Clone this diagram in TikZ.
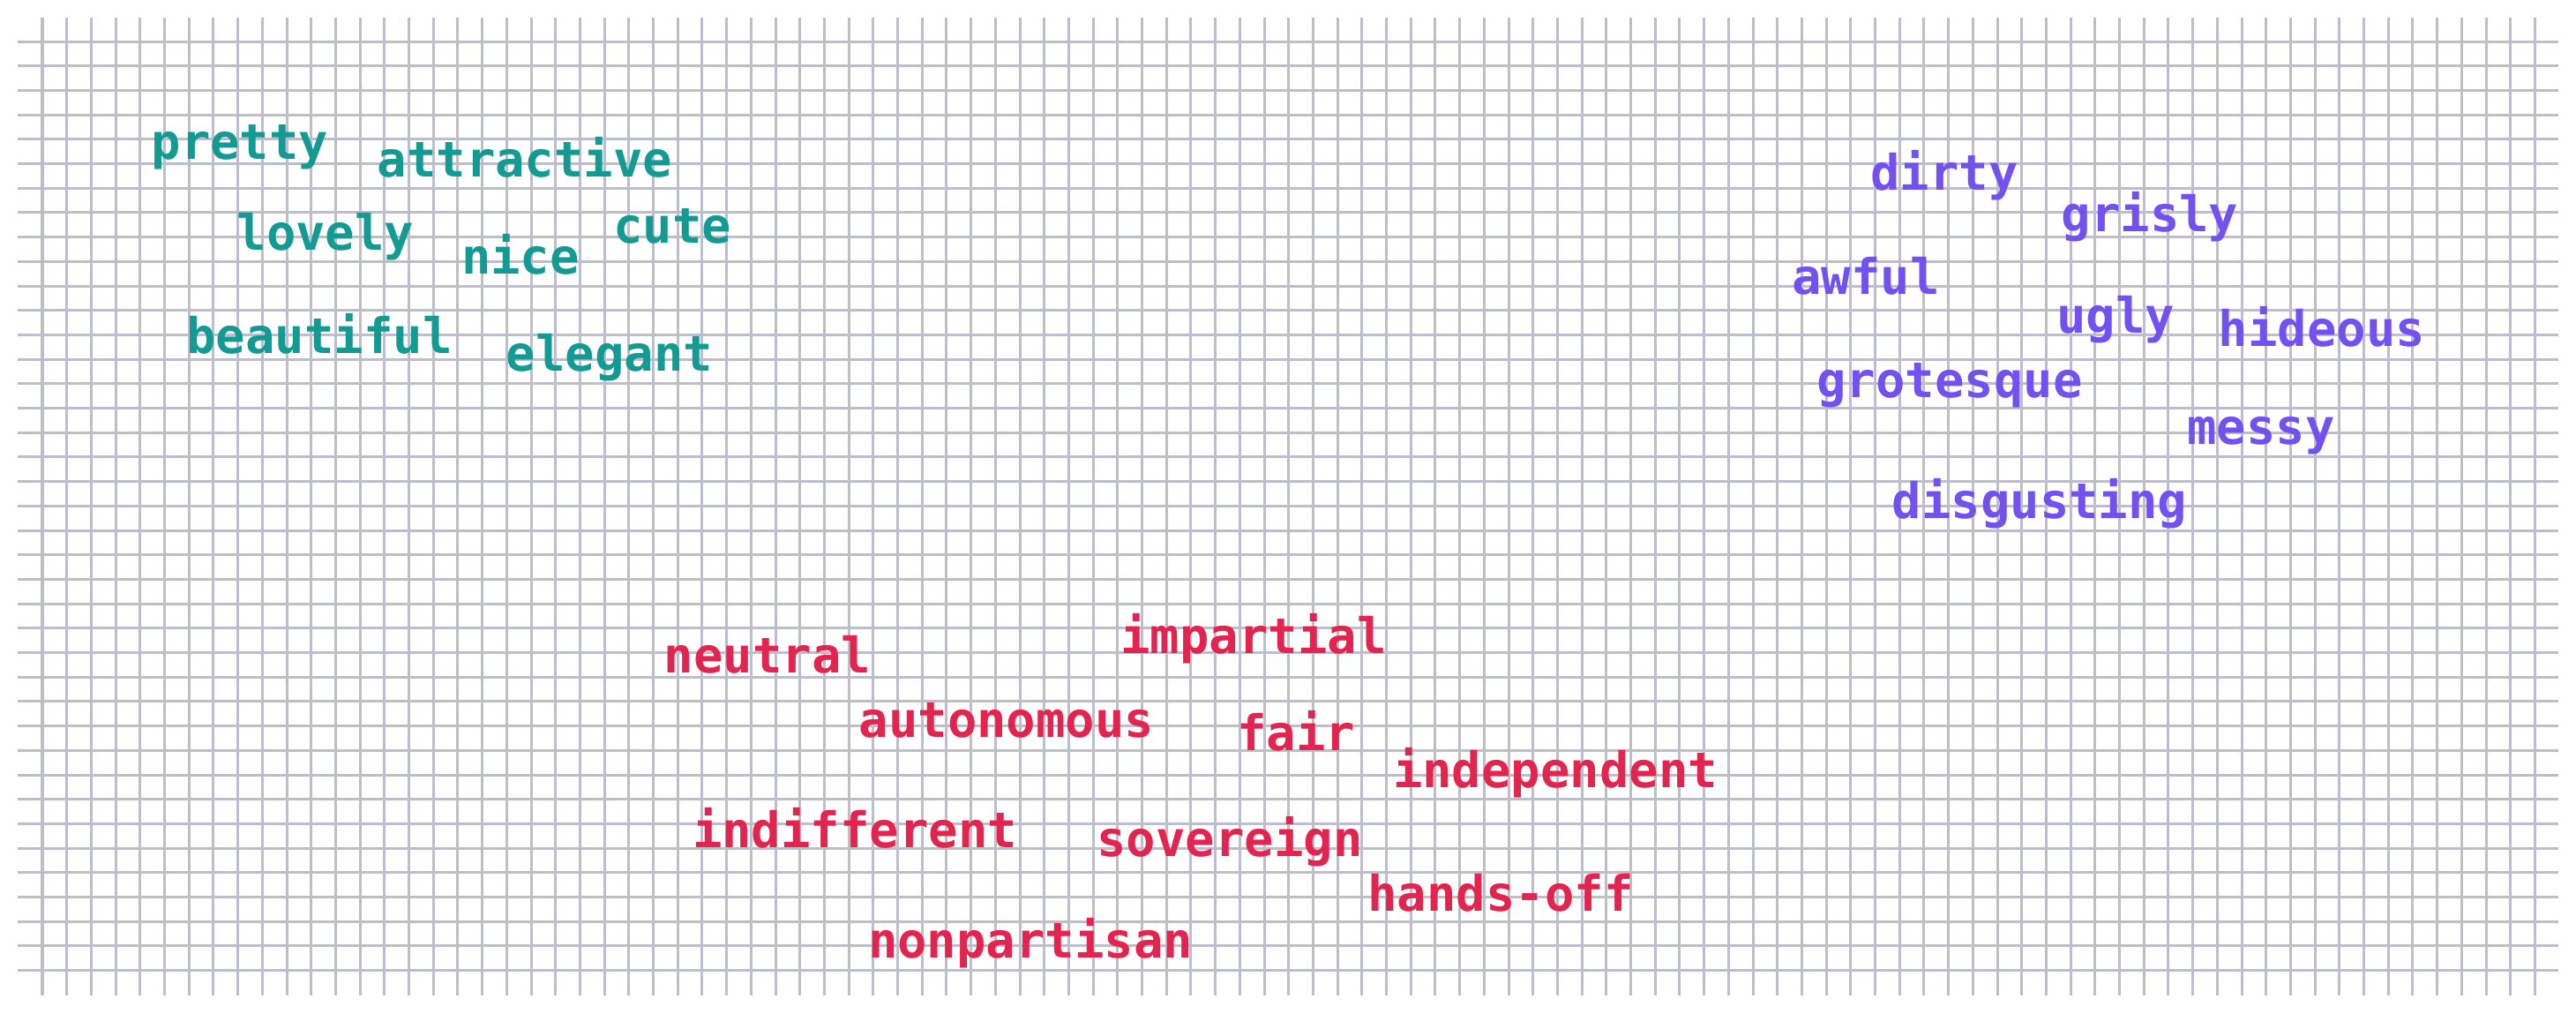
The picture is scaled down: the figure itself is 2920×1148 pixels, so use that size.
\documentclass[tikz,border=0pt]{standalone}
\usepackage{fontspec}
\usepackage{xcolor}
\usepackage{tikz}
\usetikzlibrary{positioning}
\newfontfamily\wordfont{DejaVu Sans Mono}
\definecolor{gridgray}{HTML}{BCBFCB}
\definecolor{prettyteal}{HTML}{139A93}
\definecolor{uglyviolet}{HTML}{7251F0}
\definecolor{neutralred}{HTML}{E2244F}
\tikzset{
  gridline/.style = {draw=gridgray, line width=0.03cm},
  word/.style = {inner sep=0pt, anchor=base,
   font=\wordfont\bfseries\fontsize{15.8}{18}\selectfont},
  posword/.style = {word, text=prettyteal},
  negword/.style = {word, text=uglyviolet},
  midword/.style = {word, text=neutralred},
}

\begin{document}
\begin{tikzpicture}[x=0.01cm, y=-0.01cm]
  \useasboundingbox (0,0) rectangle (2920,1148);
  % squared paper
  \foreach \i in {0,...,102}
    \draw[gridline] ({48+27.7*\i},20) -- ({48+27.7*\i},1128);
  \foreach \j in {0,...,38}
    \draw[gridline] (20,{47+27.7*\j}) -- (2900,{47+27.7*\j});
  % positive words
  \node (pretty) [posword] at (272,180) {pretty};
  \node (attractive) [posword] at (595,200) {attractive};
  \node (lovely) [posword] at (369,283) {lovely};
  \node (nice) [posword] at (590,310) {nice};
  \node (cute) [posword] at (762,275) {cute};
  \node (beautiful) [posword] at (362,400) {beautiful};
  \node (elegant) [posword] at (691,420) {elegant};
  % negative words
  \node (dirty) [negword] at (2204,215) {dirty};
  \node (grisly) [negword] at (2437,262) {grisly};
  \node (awful) [negword] at (2115,333) {awful};
  \node (ugly) [negword] at (2398,377) {ugly};
  \node (hideous) [negword] at (2632,392) {hideous};
  \node (grotesque) [negword] at (2210,450) {grotesque};
  \node (messy) [negword] at (2563,503) {messy};
  \node (disgusting) [negword] at (2312,587) {disgusting};
  % neutral words
  \node (neutral) [midword] at (870,762) {neutral};
  \node (impartial) [midword] at (1421,740) {impartial};
  \node (autonomous) [midword] at (1141,835) {autonomous};
  \node (fair) [midword] at (1469,850) {fair};
  \node (independent) [midword] at (1763,892) {independent};
  \node (indifferent) [midword] at (969,960) {indifferent};
  \node (sovereign) [midword] at (1394,970) {sovereign};
  \node (handsoff) [midword] at (1701,1032) {hands-off};
  \node (nonpartisan) [midword] at (1168,1085) {nonpartisan};
\end{tikzpicture}
\end{document}
